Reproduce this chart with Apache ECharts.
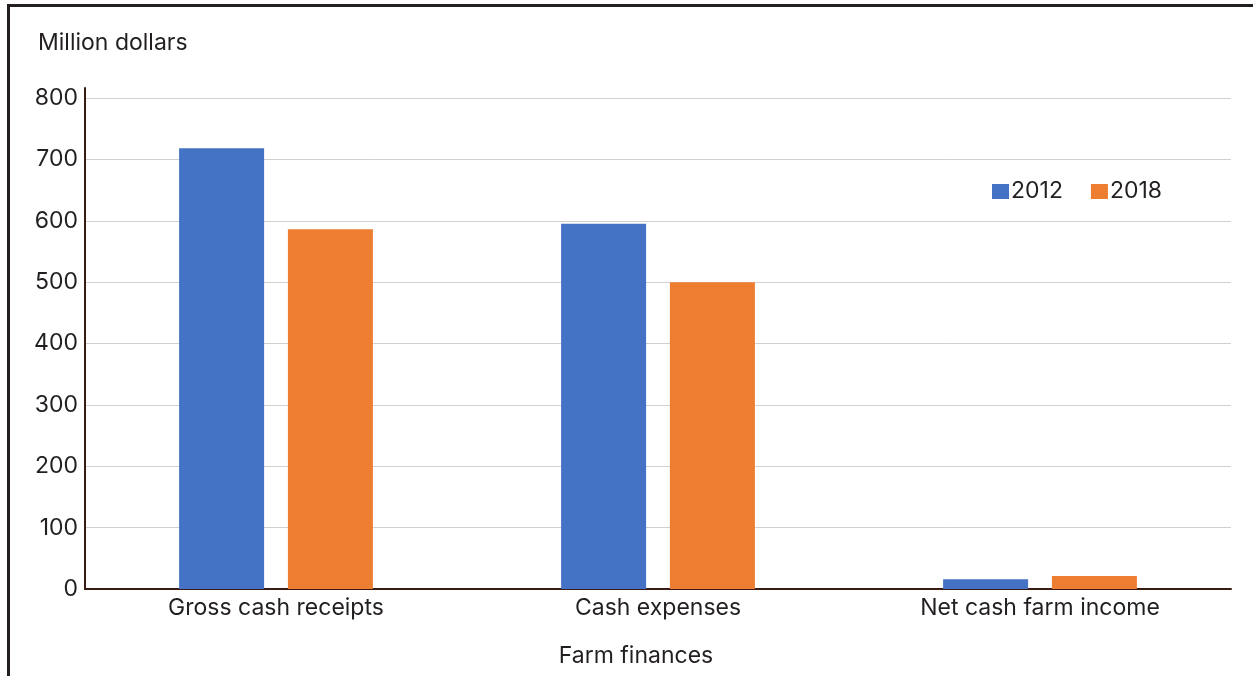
<!DOCTYPE html>
<html>
<head>
<meta charset="utf-8">
<script src="https://cdn.jsdelivr.net/npm/echarts@6/dist/echarts.min.js"></script>
<style>
html,body{margin:0;padding:0;background:#fff;}
#frame{position:absolute;left:7px;top:4px;width:1300px;height:700px;border-top:3px solid #231f20;border-left:3px solid #231f20;}
#chart{position:absolute;left:0;top:0;width:1253px;height:676px;}
</style>
</head>
<body>
<div id="frame"></div>
<div id="chart"></div>
<script>
const categories = ['Gross cash receipts', 'Cash expenses', 'Net cash farm income'];
const values2012 = [718, 595, 16];
const values2018 = [586, 500, 21];
const seriesNames = ['2012', '2018'];
const yTicks = [0, 100, 200, 300, 400, 500, 600, 700, 800];

const chart = echarts.init(document.getElementById('chart'));
const font = 'Inter, Roboto, "Liberation Sans", sans-serif';
const fs = 23;
chart.setOption({
  animation: false,
  textStyle: { fontFamily: font },
  title: {
    text: 'Million dollars', left: 33, top: 27,
    textStyle: { fontSize: fs, fontWeight: 'normal', color: '#231f20', fontFamily: font }
  },
  legend: {
    data: seriesNames, left: 987, top: 175,
    itemWidth: 17, itemHeight: 15, itemGap: 28,
    textStyle: { fontSize: fs, color: '#231f20', padding: [0, 0, 0, -3] },
    icon: 'rect'
  },
  grid: { left: 85, right: 22, top: 88, bottom: 87, containLabel: false },
  xAxis: {
    type: 'category', data: categories,
    name: 'Farm finances', nameLocation: 'middle', nameGap: 56,
    nameTextStyle: { fontSize: fs, color: '#231f20', padding: [0, 44, 0, 0] },
    axisLine: { lineStyle: { color: '#3b1a16', width: 2 } },
    axisTick: { show: false },
    axisLabel: { fontSize: fs, color: '#231f20', margin: 8 }
  },
  yAxis: {
    type: 'value', min: 0, max: 816.3, interval: 100,
    axisLine: { show: true, lineStyle: { color: '#3b1a16', width: 2 } },
    axisTick: { show: false },
    axisLabel: { fontSize: fs, color: '#231f20', margin: 7, showMaxLabel: false,
      formatter: v => yTicks.indexOf(v) >= 0 ? String(v) : '' },
    splitLine: { showMaxLine: false, lineStyle: { color: '#d3cfcf', width: 1 } }
  },
  series: [
    { name: seriesNames[0], type: 'bar', data: values2012, itemStyle: { color: '#4472c4' },
      barWidth: 85, barGap: '28%' },
    { name: seriesNames[1], type: 'bar', data: values2018, itemStyle: { color: '#ed7d31' },
      barWidth: 85, barGap: '28%' }
  ]
});
</script>
</body>
</html>
